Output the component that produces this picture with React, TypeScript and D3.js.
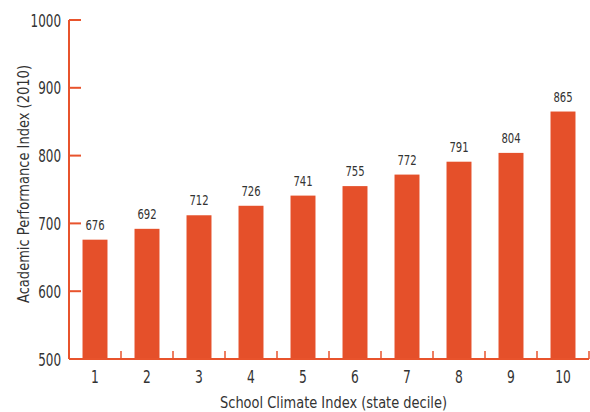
import React from "react";
import * as d3 from "d3";

const categories = ["1", "2", "3", "4", "5", "6", "7", "8", "9", "10"];
const values = [676, 692, 712, 726, 741, 755, 772, 791, 804, 865];
const yTicks = [500, 600, 700, 800, 900, 1000];

const W = 590;
const H = 412;
const FONT = "'DejaVu Sans Condensed', 'DejaVu Sans', sans-serif";
const BAR = "#E5502A";
const AXIS = "#E8532C";
const TEXT = "#333333";

function NText({ x, y, sx, size, anchor, children }: any) {
  return (
    <g transform={`translate(${x},${y}) scale(${sx},1)`}>
      <text x={0} y={0} textAnchor={anchor} fontSize={size} fill={TEXT}>
        {children}
      </text>
    </g>
  );
}

export default function App() {
  const left = 69;
  const right = 589;
  const top = 20;
  const bottom = 359;

  const x = d3.scaleBand<string>().domain(categories).range([left, right]).paddingInner(0.52).paddingOuter(0.26);
  const xb = d3.scaleBand<string>().domain(categories).range([left, right]);
  const y = d3.scaleLinear().domain([500, 1000]).range([bottom, top]);

  return (
    <svg width={W} height={H} style={{ position: "absolute", left: 0, top: 0 }} fontFamily={FONT}>
      {categories.map((c, i) => (
        <g key={c}>
          <rect x={x(c)} y={y(values[i])} width={x.bandwidth()} height={bottom - y(values[i])} fill={BAR} />
          <NText x={(x(c) as number) + x.bandwidth() / 2} y={y(values[i]) - 10} sx={0.8} size={14} anchor="middle">
            {values[i]}
          </NText>
          <NText x={(x(c) as number) + x.bandwidth() / 2} y={383} sx={0.78} size={17.5} anchor="middle">
            {c}
          </NText>
          <line x1={(xb(c) as number) + xb.bandwidth()} x2={(xb(c) as number) + xb.bandwidth()} y1={bottom} y2={bottom - 8} stroke={AXIS} strokeWidth={1.5} />
        </g>
      ))}
      <line x1={left} x2={right} y1={bottom} y2={bottom} stroke={AXIS} strokeWidth={2} />
      <line x1={left} x2={left} y1={top} y2={bottom} stroke={AXIS} strokeWidth={2} />
      {yTicks.map((t) => (
        <g key={t}>
          <line x1={left} x2={left + 12} y1={y(t)} y2={y(t)} stroke={AXIS} strokeWidth={2} />
          <NText x={61} y={y(t) + 6.5} sx={0.76} size={17.5} anchor="end">
            {t}
          </NText>
        </g>
      ))}
      <text x={333.5} y={408} textAnchor="middle" fontSize={15} fill={TEXT} textLength={227} lengthAdjust="spacingAndGlyphs">
        School Climate Index (state decile)
      </text>
      <text transform={`translate(29,184) rotate(-90)`} textAnchor="middle" fontSize={16} fill={TEXT} textLength={238} lengthAdjust="spacingAndGlyphs">
        Academic Performance Index (2010)
      </text>
    </svg>
  );
}
